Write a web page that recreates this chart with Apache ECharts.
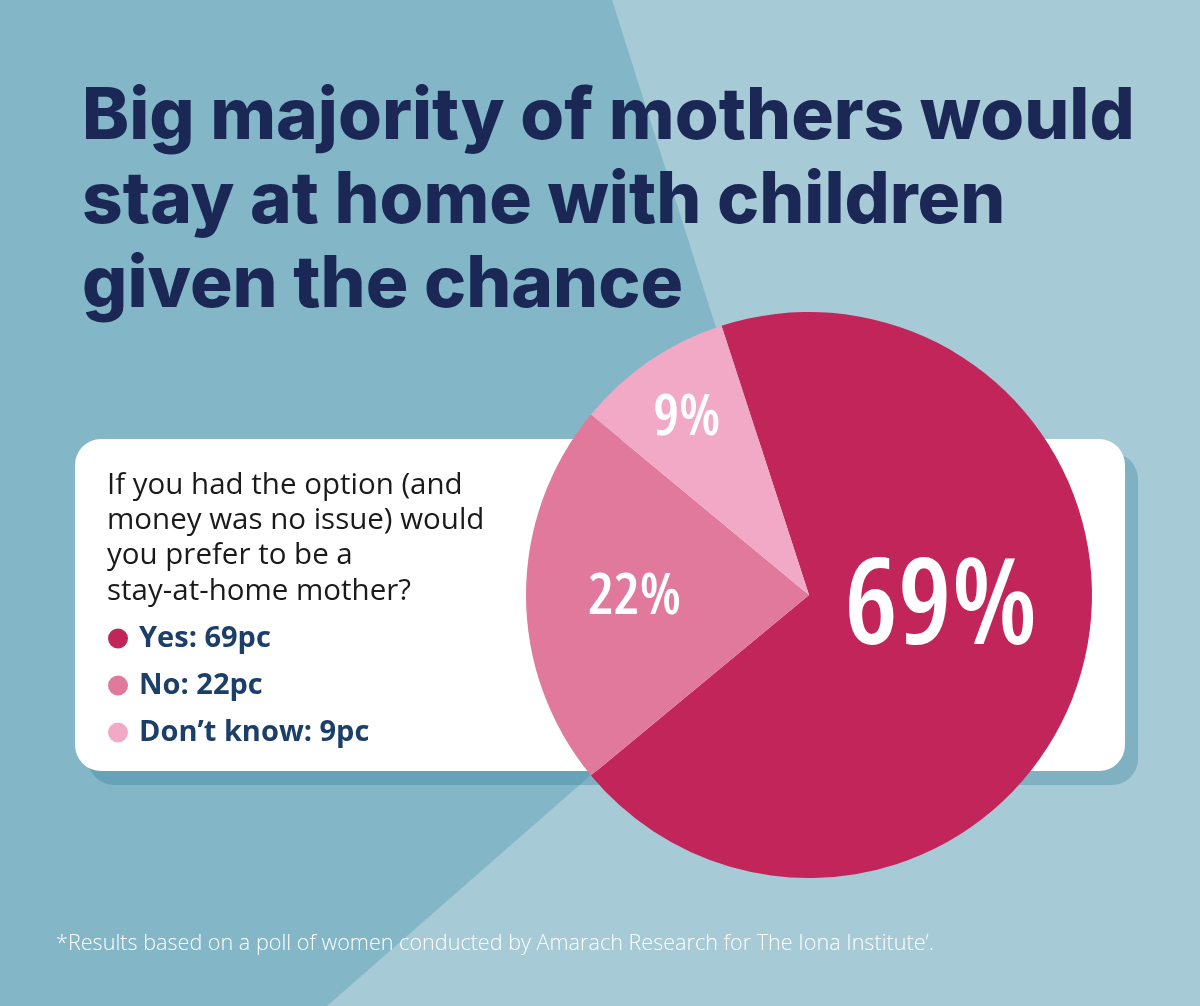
<!DOCTYPE html>
<html>
<head>
<meta charset="utf-8">
<title>Stay-at-home mothers poll</title>
<script src="https://cdn.jsdelivr.net/npm/echarts@6/dist/echarts.min.js"></script>
<style>
  html, body { margin: 0; padding: 0; }
  #chart { width: 1200px; height: 1006px; }
</style>
</head>
<body>
<div id="chart"></div>
<script>
// poll answers
const categories = ['Yes', 'No', 'Don\u2019t know']
const values = [69, 22, 9]
const colors = ['#c2255a', '#e0799b', '#f2a9c6']

const titleLines = [
  'Big majority of mothers would',
  'stay at home with children',
  'given the chance'
]
const questionLines = [
  'If you had the option (and',
  'money was no issue) would',
  'you prefer to be a',
  'stay-at-home mother?'
]
const footnote = '*Results based on a poll of women conducted by Amarach Research for The Iona Institute\u2019.'

// label nudges from the default inside spot (px)
const labelShift = [[-7, -26], [-30, 2], [-41, -57]]
const labelSizes = [120, 58, 58]

const chart = echarts.init(document.getElementById('chart'))

const option = {
  backgroundColor: '#a7cad7',
  animation: false,
  title: {
    text: titleLines.join('\n'),
    left: 77,
    top: 71,
    textStyle: {
      fontFamily: 'Inter',
      fontWeight: 800,
      fontSize: 71,
      lineHeight: 84,
      color: '#1b2856'
    }
  },
  legend: {
    orient: 'vertical',
    left: 103,
    top: 619,
    itemWidth: 32,
    itemHeight: 20,
    itemGap: 18,
    icon: 'circle',
    selectedMode: false,
    data: categories,
    formatter: function (name) {
      const i = categories.indexOf(name)
      return name + ': ' + values[i] + 'pc'
    },
    textStyle: {
      fontFamily: 'Open Sans',
      fontWeight: 'bold',
      fontSize: 29,
      lineHeight: 20,
      color: '#1c3f6a'
    }
  },
  graphic: [
    {
      type: 'polygon',
      z: -10,
      shape: { points: [[0, 0], [612, 0], [800, 592], [327, 1006], [0, 1006]] },
      style: { fill: '#83b7c8' },
      silent: true
    },
    {
      type: 'rect',
      z: -5,
      shape: { x: 88, y: 453, width: 1050, height: 332, r: 26 },
      style: { fill: 'rgba(40,120,150,0.3)' },
      silent: true
    },
    {
      type: 'rect',
      z: -4,
      shape: { x: 75, y: 439, width: 1050, height: 332, r: 26 },
      style: { fill: '#ffffff' },
      silent: true
    },
    {
      type: 'text',
      z: -3,
      left: 107,
      top: 468,
      style: {
        text: questionLines.join('\n'),
        font: '29.5px "Open Sans"',
        lineHeight: 35.2,
        fill: '#1a1a1a'
      },
      silent: true
    },
    {
      type: 'text',
      left: 56,
      top: 933,
      style: {
        text: footnote,
        font: '300 21.6px "Open Sans"',
        fill: '#ffffff'
      },
      silent: true
    }
  ],
  series: [
    {
      name: 'Stay-at-home',
      type: 'pie',
      z: 2,
      center: [809, 595],
      radius: 283,
      startAngle: 108,
      clockwise: true,
      silent: true,
      itemStyle: { borderWidth: 0 },
      label: {
        show: true,
        position: 'inside',
        color: '#ffffff',
        fontFamily: '"Open Sans"',
        fontWeight: '600 condensed',
        formatter: '{c}%'
      },
      labelLine: { show: false },
      labelLayout: function (params) {
        const s = labelShift[params.dataIndex]
        return { dx: s[0], dy: s[1] }
      },
      data: categories.map(function (name, i) {
        return {
          name: name,
          value: values[i],
          itemStyle: { color: colors[i] },
          label: { fontSize: labelSizes[i] }
        }
      })
    }
  ]
}

chart.setOption(option)
</script>
</body>
</html>
